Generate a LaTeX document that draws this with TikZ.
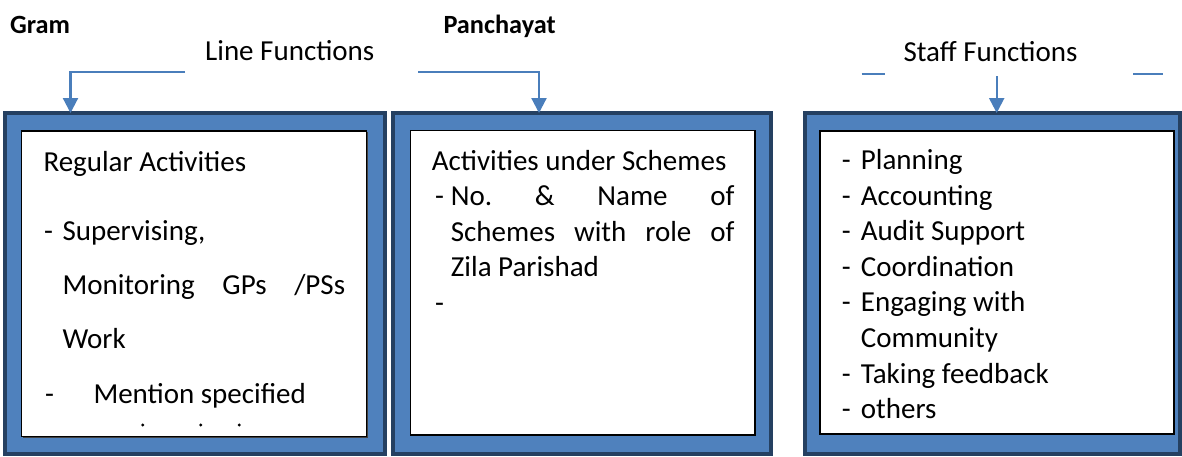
\documentclass[tikz,border=0pt]{standalone}
\usepackage{fontspec}
\setmainfont{Carlito}
\usetikzlibrary{arrows.meta,shadows}

\definecolor{boxblue}{RGB}{79,129,189}
\definecolor{boxedge}{RGB}{37,64,97}
\definecolor{linkblue}{RGB}{74,126,187}

\tikzset{
  outerbox/.style={rectangle, draw=boxedge, fill=boxblue, line width=4pt, inner sep=0pt},
  innerbox/.style={rectangle, draw=black, fill=white, line width=1.2pt, inner sep=0pt,
    general shadow={fill=black!75, shadow xshift=1.3pt, shadow yshift=-1.3pt}},
  bodytext/.style={anchor=base west, inner sep=0pt, font=\fontsize{29pt}{35.6pt}\selectfont},
  headtext/.style={anchor=base west, inner sep=0pt, font=\fontsize{26.3pt}{31pt}\selectfont\bfseries},
  titletext/.style={anchor=base west, inner sep=0pt, font=\fontsize{29pt}{35.6pt}\selectfont},
  link/.style={draw=linkblue, line width=2.2pt},
  linkarrow/.style={link, -{Triangle[width=15pt,length=15pt]}},
}

\begin{document}
\begin{tikzpicture}[x=1pt, y=-1pt]
\useasboundingbox (0,0) rectangle (1182,456);

% outer framed panels
\node[outerbox, minimum width=380pt, minimum height=341pt] (b1) at (195,283.5) {};
\node[outerbox, minimum width=378pt, minimum height=341pt] (b2) at (582,283.5) {};
\node[outerbox, minimum width=375pt, minimum height=341pt] (b3) at (992.5,283.5) {};

% white content panels
\node[innerbox, minimum width=345pt, minimum height=305.7pt] (w1) at (194.2,283.85) {};
\node[innerbox, minimum width=344.3pt, minimum height=304.5pt] (w2) at (582.85,282.75) {};
\node[innerbox, minimum width=354pt, minimum height=303pt] (w3) at (997,282.5) {};

% headings
\node[headtext] (gram) at (10,33.3) {Gram};
\node[headtext] (panch) at (443.3,33.3) {Panchayat};
\node[titletext] (linef) at (205,60) {Line Functions};
\node[titletext] (stafff) at (903.3,61.7) {Staff Functions};

% connectors
\coordinate (l1s) at (185,71.7);
\coordinate (l1k) at (70.5,71.7);
\coordinate (l1e) at (70.5,113);
\draw[linkarrow] (l1s) -- (l1k) -- (l1e);

\coordinate (l2s) at (418.3,71.7);
\coordinate (l2k) at (539,71.7);
\coordinate (l2e) at (539,113);
\draw[linkarrow] (l2s) -- (l2k) -- (l2e);

\coordinate (s1a) at (861.7,74);
\coordinate (s1b) at (885,74);
\coordinate (s2a) at (1133.3,74);
\coordinate (s2b) at (1163.3,74);
\draw[link] (s1a) -- (s1b);
\draw[link] (s2a) -- (s2b);
\coordinate (s3s) at (996.7,76);
\coordinate (s3e) at (996.7,113);
\draw[linkarrow] (s3s) -- (s3e);

% first panel text
\node[bodytext] (p1a) at (43.3,171) {Regular Activities};
\node[bodytext] (p1b) at (44,240) {-};
\node[bodytext] (p1c) at (62.3,240) {Supervising,};
\node[bodytext] (p1d) at (62.3,294.5) {\hbox to 282.7pt{Monitoring\hfill GPs\hfill /PSs}};
\node[bodytext] (p1e) at (62.3,348) {Work};
\node[bodytext] (p1f) at (45,403) {-};
\node[bodytext] (p1g) at (93.3,403) {Mention specified};
\fill (142.7,425) circle (1.6pt) (200.7,425) circle (1.6pt) (239.3,425) circle (1.6pt);

% second panel text
\node[bodytext] (p2a) at (431.7,170) {Activities under Schemes};
\node[bodytext] (p2b) at (435,205.6) {-};
\node[bodytext] (p2c) at (450.7,205.6) {\hbox to 283.6pt{No.\hfill\&\hfill Name\hfill of}};
\node[bodytext] (p2d) at (450.7,241.2) {\hbox to 283.6pt{Schemes\hfill with\hfill role\hfill of}};
\node[bodytext] (p2e) at (450.7,276.8) {Zila Parishad};
\node[bodytext] (p2f) at (435,312.4) {-};

% third panel text
\foreach \t [count=\i from 0] in {Planning,Accounting,Audit Support,Coordination,Engaging with}
  \node[bodytext] (p3d\i) at (841.7,169.4+35.6*\i) {-}
    node[bodytext] (p3t\i) at (860.7,169.4+35.6*\i) {\t};
\node[bodytext] (p3c) at (860.7,347.4) {Community};
\node[bodytext] (p3d5) at (841.7,383) {-};
\node[bodytext] (p3t5) at (860.7,383) {Taking feedback};
\node[bodytext] (p3d6) at (841.7,418.6) {-};
\node[bodytext] (p3t6) at (860.7,418.6) {others};
\end{tikzpicture}
\end{document}
